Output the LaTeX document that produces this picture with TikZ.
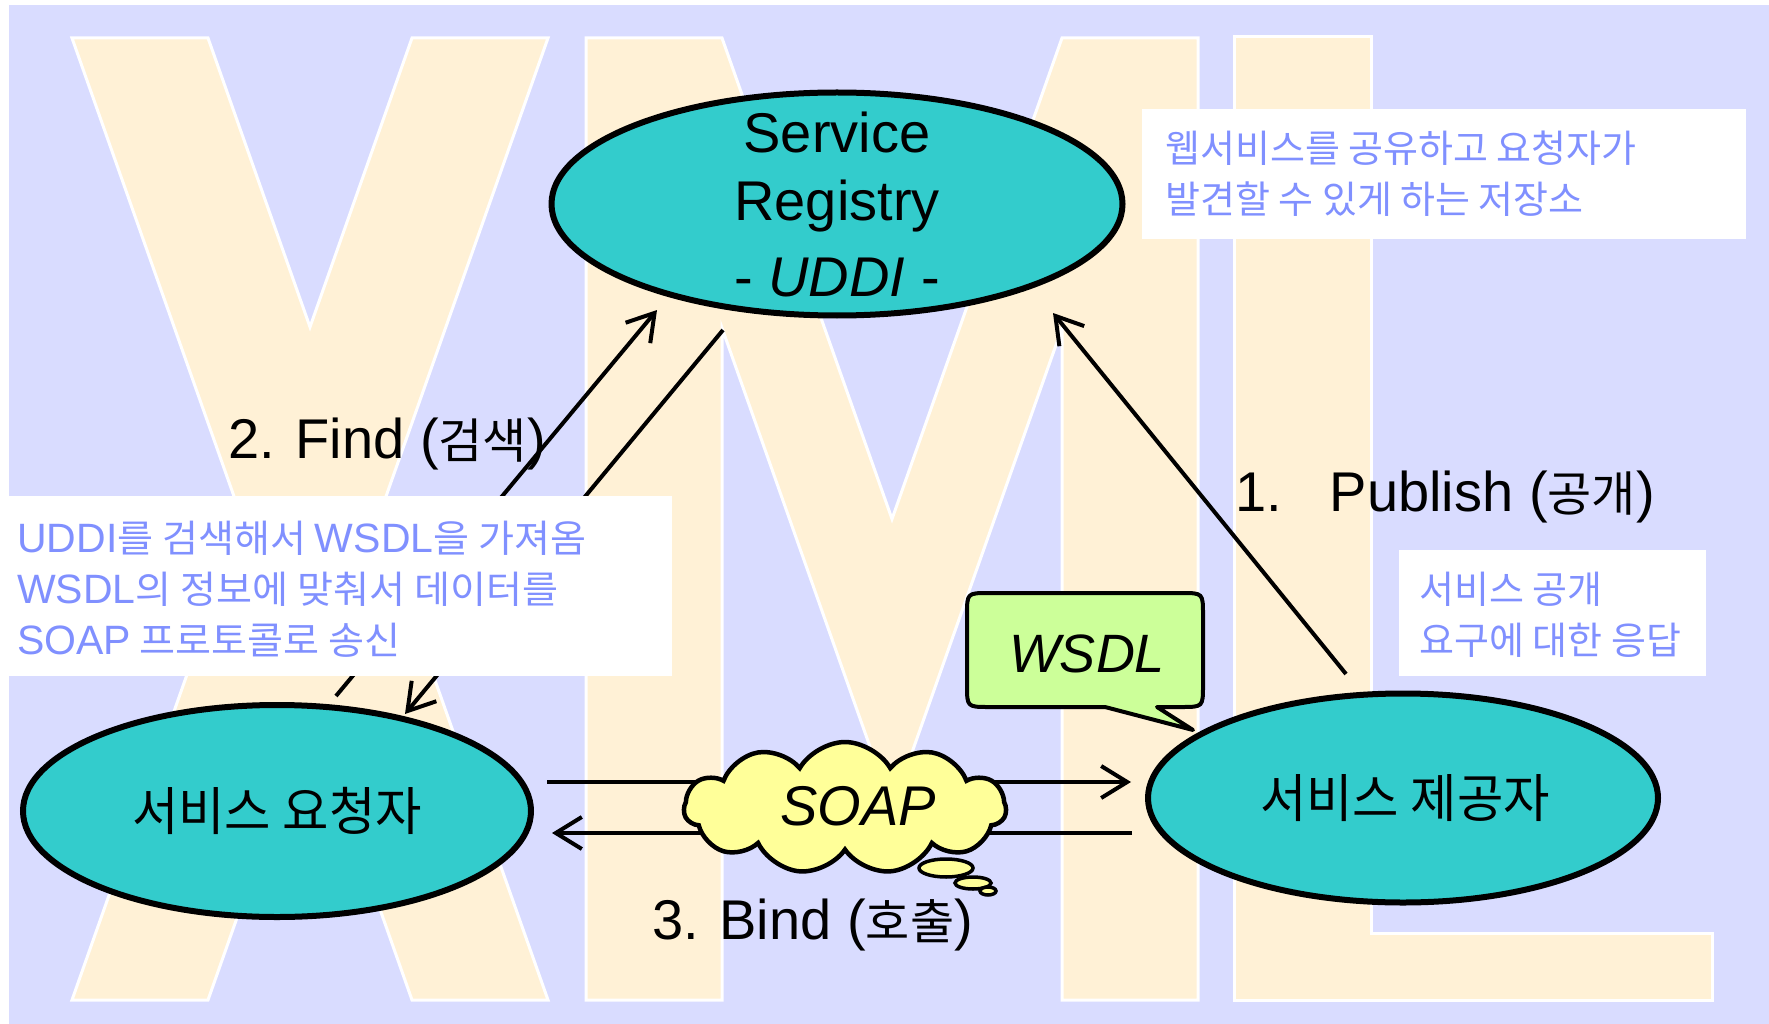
\documentclass[tikz,border=0pt]{standalone}
\usepackage{fontspec}
\setmainfont{Liberation Sans}
\newfontfamily\krfont{Noto Sans CJK KR}
\newfontfamily\krwide[FakeStretch=0.97]{Noto Sans CJK KR}
\newfontfamily\krnote[FakeStretch=1.03]{Noto Sans CJK KR}
\usetikzlibrary{shapes.geometric,shapes.symbols,arrows.meta}
\definecolor{bgblue}{RGB}{217,220,255}
\definecolor{cream}{RGB}{255,241,214}
\definecolor{tealfill}{RGB}{51,204,204}
\definecolor{wsdlgreen}{RGB}{204,255,153}
\definecolor{soapyellow}{RGB}{255,255,153}
\definecolor{txtblue}{RGB}{128,144,255}
\newcommand\krl[1]{{\krfont\fontsize{48}{56}\selectfont #1}}
\newcommand\lat[1]{{\rmfamily\fontsize{41}{44}\selectfont #1}}
\begin{document}
\begin{tikzpicture}[x=1pt,y=-1pt,
  letter/.style={fill=cream,draw=white,line width=3pt,line join=miter},
  ellnode/.style={ellipse,draw=black,line width=6pt,fill=tealfill,inner sep=0pt},
  arr/.style={line width=4pt,-{Straight Barb[length=26pt,width=32pt,line width=4pt]}},
  bigtxt/.style={inner sep=0pt,font=\fontsize{56}{60}\selectfont},
  krbig/.style={inner sep=0pt,anchor=base,font=\krwide\fontsize{52}{60}\selectfont},
  note/.style={inner sep=0pt,anchor=base west,text=txtblue,font=\krfont\fontsize{38}{44}\selectfont},
  note2/.style={note,font=\krnote\fontsize{38}{44}\selectfont},
  bubble/.style={fill=wsdlgreen,draw=black,line width=4pt,line join=round},
  cloudnode/.style={cloud,cloud puffs=11,cloud puff arc=120,cloud ignores aspect,draw=black,line width=4.5pt,fill=soapyellow,inner sep=0pt},
  thought/.style={fill=soapyellow,draw=black,line width=3.5pt}
]
\useasboundingbox (0,0) rectangle (1769,1024);
\fill[white] (0,0) rectangle (1769,1024);
\fill[bgblue] (9,5) rectangle (1769,1024);

% background letters X M L
\draw[letter] (72,38) -- (208,38) -- (310,327) -- (412,38) -- (548,38) -- (378,519) -- (548,1000) -- (412,1000) -- (310,711) -- (208,1000) -- (72,1000) -- (242,519) -- cycle;
\draw[letter] (586,1000) -- (586,38) -- (722,38) -- (892,519) -- (1062,38) -- (1198,38) -- (1198,1000) -- (1062,1000) -- (1062,328) -- (892,809) -- (722,328) -- (722,1000) -- cycle;
\draw[letter] (1234,37) -- (1371,37) -- (1371,933) -- (1712,933) -- (1712,1000) -- (1234,1000) -- cycle;

% ellipses
\node[ellnode,minimum width=571pt,minimum height=223pt] (reg) at (837,204) {};
\node[ellnode,minimum width=508pt,minimum height=212pt] (req) at (277,811) {};
\node[ellnode,minimum width=510pt,minimum height=209pt] (prov) at (1403,798) {};

\node[bigtxt,anchor=base] (regA) at (837,153) {Service};
\node[bigtxt,anchor=base] (regB) at (837,221) {Registry};
\node[bigtxt,anchor=base] (regC) at (837,297) {- \textit{UDDI} -};
\node[krbig] (reqtxt) at (277,830) {서비스 요청자};
\node[krbig] (provtxt) at (1405,817) {서비스 제공자};

% connector end points
\coordinate (findA0) at (336,696);
\coordinate (findA1) at (657,310);
\coordinate (findB0) at (723,330);
\coordinate (findB1) at (405,714);
\coordinate (pub0) at (1346,674);
\coordinate (pub1) at (1053,313);
\coordinate (bindA0) at (547,782);
\coordinate (bindA1) at (1131,782);
\coordinate (bindB0) at (1132,833);
\coordinate (bindB1) at (552,833);

\draw[arr] (findA0) -- (findA1);
\draw[arr] (findB0) -- (findB1);
\draw[arr] (pub0) -- (pub1);
\draw[arr] (bindA0) -- (bindA1);
\draw[arr] (bindB0) -- (bindB1);

% WSDL bubble
\draw[bubble] (1105,707) -- (989,707) .. controls (967,707) .. (967,685) -- (967,615) .. controls (967,593) .. (989,593) -- (1181,593) .. controls (1203,593) .. (1203,615) -- (1203,685) .. controls (1203,707) .. (1181,707) -- (1157,707) -- (1193,730) -- cycle;
\node[bigtxt,anchor=base,font=\fontsize{54}{60}\selectfont\itshape] (wsdl) at (1087,672) {WSDL};

% SOAP cloud
\node[cloudnode,minimum width=322pt,minimum height=132pt] (soap) at (845,808) {};
\draw[thought] (946,868) ellipse [x radius=27pt,y radius=9pt];
\draw[thought] (973,883) ellipse [x radius=18pt,y radius=6pt];
\draw[thought] (988,891) ellipse [x radius=8pt,y radius=4pt];
\node[bigtxt,anchor=base,font=\fontsize{56}{60}\selectfont\itshape] (soaptxt) at (858,825) {SOAP};

% labels
\node[bigtxt,anchor=base west] (find) at (228,458) {2. Find (\krl{검색})};
\node[bigtxt,anchor=base west] (publish) at (1235,511) {1.\hspace{48pt}Publish (\krl{공개})};
\node[bigtxt,anchor=base west] (bind) at (652,939) {3. Bind (\krl{호출})};

% white note boxes
\fill[white] (1142,109) rectangle (1746,239);
\fill[white] (9,496) rectangle (672,676);
\fill[white] (1399,550) rectangle (1706,676);

\node[note] (n1a) at (1165,163) {웹서비스를 공유하고 요청자가};
\node[note] (n1b) at (1165,214) {발견할 수 있게 하는 저장소};
\node[note2] (n2a) at (17,552) {\lat{UDDI}를 검색해서 \lat{WSDL}을 가져옴};
\node[note2] (n2b) at (17,603) {\lat{WSDL}의 정보에 맞춰서 데이터를};
\node[note2] (n2c) at (17,654) {\lat{SOAP} 프로토콜로 송신};
\node[note] (n3a) at (1419,603) {서비스 공개};
\node[note] (n3b) at (1419,654) {요구에 대한 응답};
\end{tikzpicture}
\end{document}
